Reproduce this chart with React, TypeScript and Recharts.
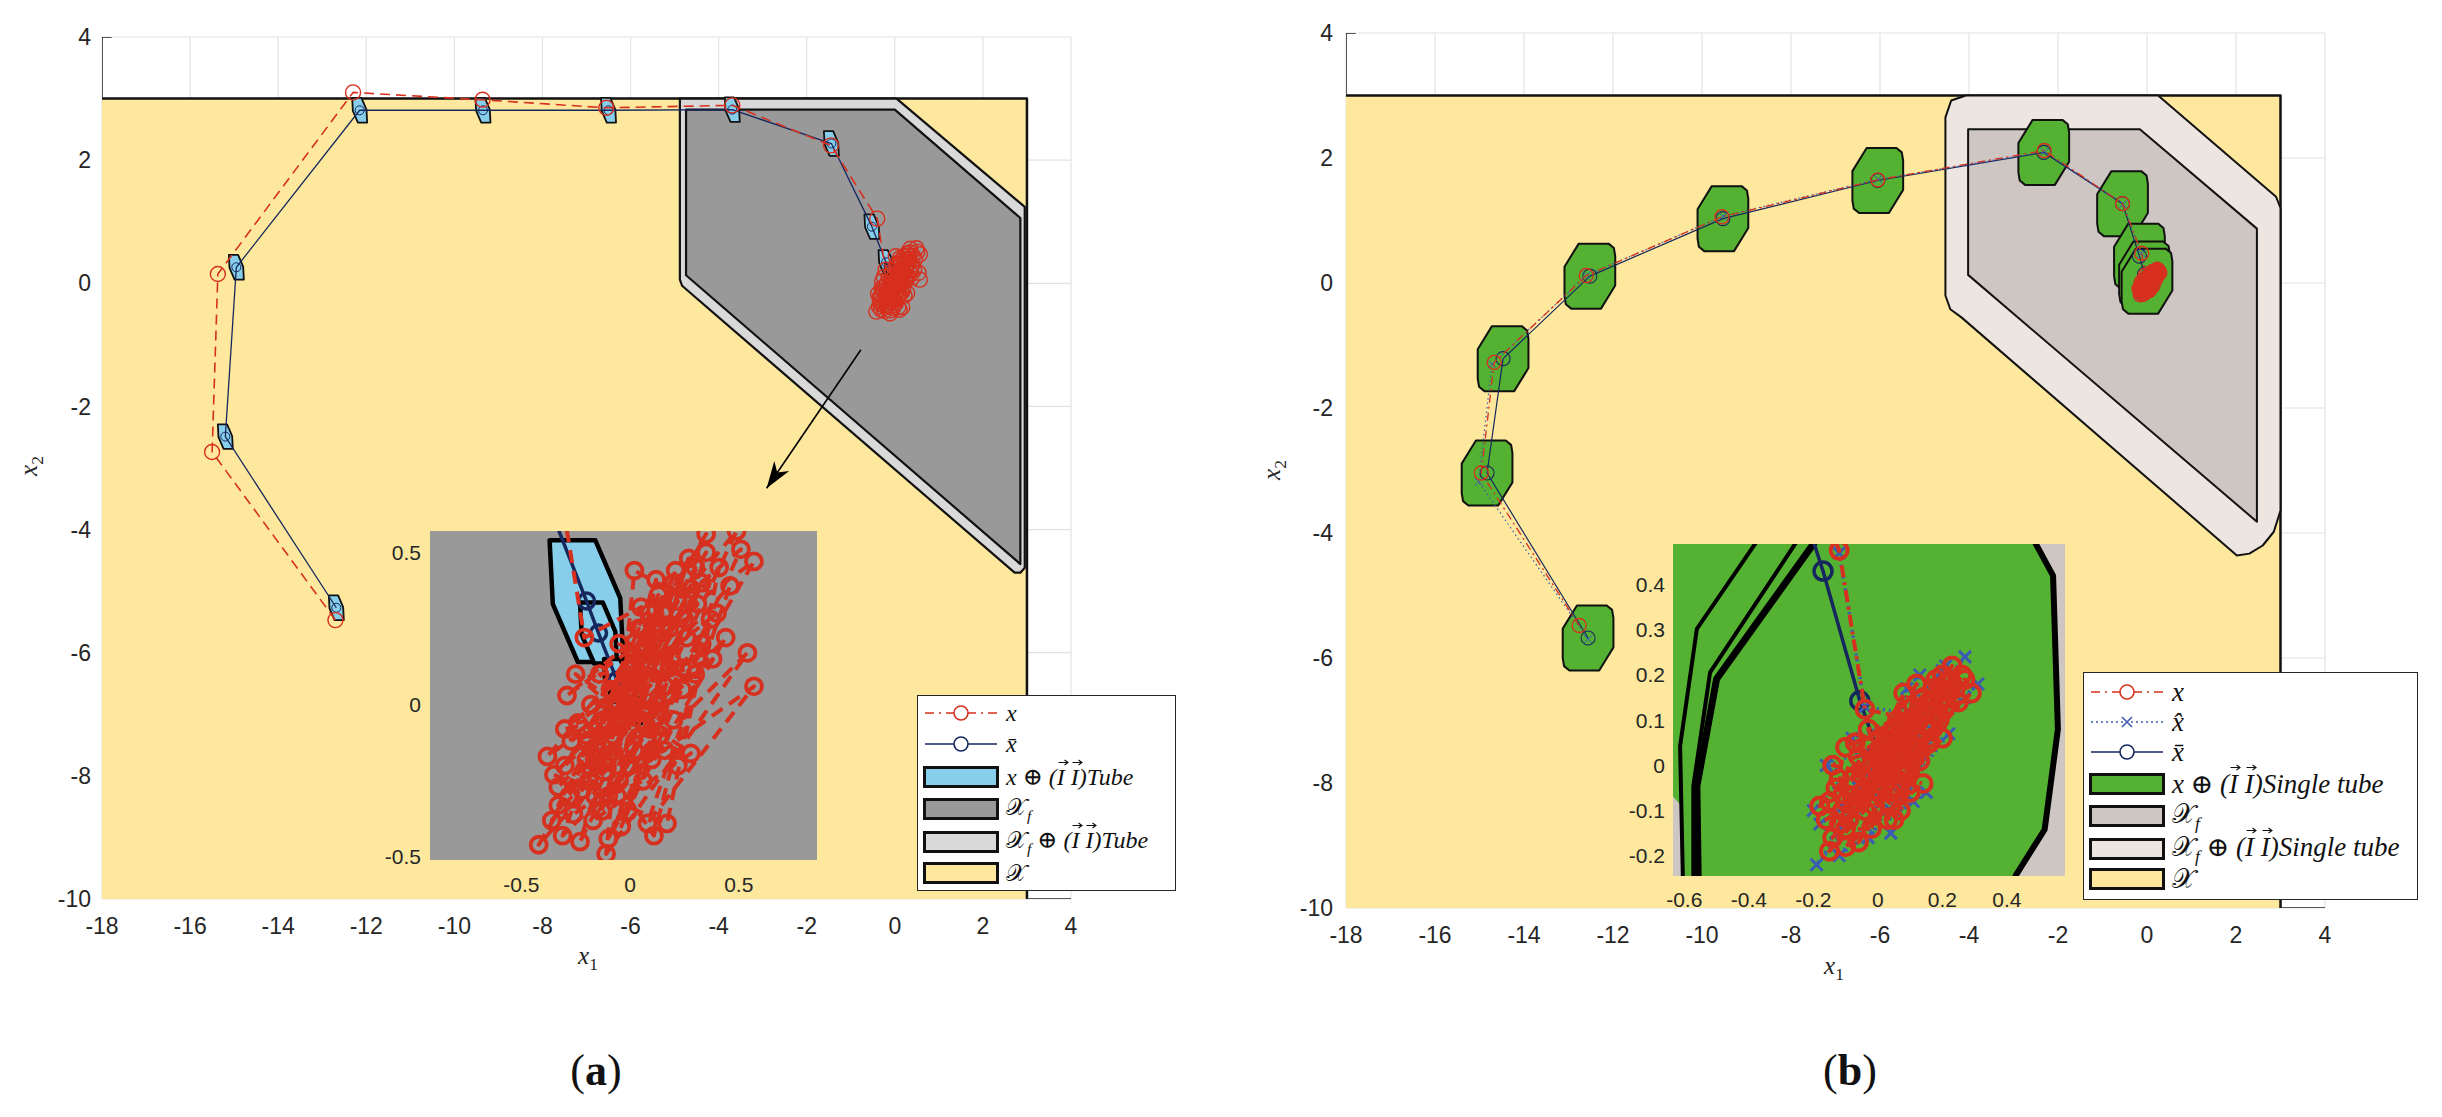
import React from "react";
import { ScatterChart, Scatter, XAxis, YAxis, CartesianGrid } from "recharts";

type Pt = { x: number; y: number };
const toPts = (a: number[][]): Pt[] => a.map(([x, y]) => ({ x, y }));

// axes
const X_TICKS = [-18, -16, -14, -12, -10, -8, -6, -4, -2, 0, 2, 4];
const Y_TICKS = [-10, -8, -6, -4, -2, 0, 2, 4];
const INSET_A_XT = [-0.5, 0, 0.5];
const INSET_A_YT = [-0.5, 0, 0.5];
const INSET_B_XT = [-0.6, -0.4, -0.2, 0, 0.2, 0.4];
const INSET_B_YT = [-0.2, -0.1, 0, 0.1, 0.2, 0.3, 0.4];

// state constraint set X and axis bits
const X_SET = [[-18, -10], [-18, 3], [3, 3], [3, -10]];
const X_EDGE = [[-18, 3], [3, 3], [3, -10]];
const Y_AXIS_SEG = [[-18, 3], [-18, 4], [-17.78, 4]];
const X_AXIS_SEG = [[3, -10], [4, -10]];

// ---------- panel (a) ----------
const XF_TUBE_A = [[-4.88, 3.0], [0.04, 3.0], [2.95, 1.24], [2.95, -4.62], [2.85, -4.7], [2.72, -4.7], [-4.83, -0.04], [-4.88, 0.06]];
const XF_A = [[-4.74, 2.82], [0.0, 2.82], [2.85, 1.06], [2.85, -4.56], [-4.74, 0.13]];
const TUBE_A = [[-0.17, 0.2], [0.04, 0.2], [0.155, 0.01], [0.17, -0.2], [-0.04, -0.2], [-0.155, -0.01]];
const XBAR_A = [[-12.68, -5.27], [-15.2, -2.49], [-14.95, 0.26], [-12.15, 2.81], [-9.35, 2.81], [-6.5, 2.81], [-3.69, 2.82], [-1.44, 2.27], [-0.52, 0.92], [-0.2, 0.34], [-0.145, 0.235], [-0.06, 0.08], [0.0, 0.0]];
const TUBE_SCALE_A = [1, 1, 1, 1, 1, 1, 1, 1, 1, 1, 0.5, 0.35, 0.3];
const X_PATH_A = [[-12.7, -5.47], [-15.5, -2.74], [-15.37, 0.15], [-12.3, 3.1], [-9.36, 2.98], [-6.55, 2.85], [-3.69, 2.89], [-1.45, 2.24], [-0.4, 1.05]];
const CLUSTER_A = [
  [-0.21, 0.22], [0.05, 0.32], [-0.12, -0.05], [0.35, 0.56], [-0.3, -0.2], [0.18, 0.12], [-0.38, -0.17], [0.49, 0.57],
  [-0.05, -0.25], [0.27, 0.48], [-0.33, -0.33], [0.21, 0.44], [0.0, 0.05], [-0.42, -0.46], [0.44, 0.22], [-0.1, -0.44],
  [0.51, 0.51], [-0.29, 0.03], [0.57, 0.47], [-0.06, -0.3], [0.12, 0.41], [-0.31, -0.43], [0.54, 0.17], [-0.11, -0.49],
  [0.02, 0.44], [0.31, 0.33], [-0.26, -0.36], [0.57, 0.06], [0.08, -0.39], [0.46, 0.39], [-0.35, -0.23], [0.17, -0.39],
  [0.37, 0.28], [-0.17, -0.38], [0.28, -0.16], [-0.25, 0.1], [0.22, -0.2], [0.41, 0.45], [-0.2, -0.1], [0.11, -0.43],
  [0.3, 0.1], [-0.15, -0.2], [0.15, 0.3], [-0.05, 0.2], [0.24, 0.05], [0.02, -0.15], [0.33, 0.4], [-0.22, -0.28],
  [0.1, 0.2], [-0.08, -0.1], [0.2, -0.05], [-0.18, 0.0], [0.38, 0.15], [0.05, -0.05], [-0.27, -0.12], [0.26, 0.22],
  [-0.02, 0.1], [0.14, -0.1], [-0.14, 0.1], [0.08, 0.12], [0.4, 0.3], [-0.24, -0.06], [0.12, 0.0], [-0.1, -0.3],
  [0.06, -0.25], [0.18, 0.25], [-0.03, -0.02], [0.28, 0.38], [-0.16, -0.3], [0.1, -0.18],
  [-0.2, -0.18], [0.04, 0.25], [-0.28, -0.3], [0.22, 0.34], [-0.12, -0.22], [0.16, 0.06], [-0.36, -0.38], [0.3, 0.45],
  [-0.07, 0.0], [0.09, 0.3], [-0.23, -0.45], [0.19, 0.15], [-0.01, -0.35], [0.35, 0.5], [-0.16, -0.14], [0.07, -0.02],
  [-0.3, -0.08], [0.25, 0.28], [0.0, -0.2], [0.13, 0.36], [-0.19, -0.25], [0.2, 0.4], [-0.09, 0.05], [0.16, -0.15],
  [-0.33, -0.27], [0.33, 0.2], [-0.04, -0.4], [0.24, 0.12], [-0.13, -0.35], [0.06, 0.17],
];
const ARROW_A = [[-0.77, -1.08], [-2.91, -3.33]];
const ARROW_TIP_A = [[-2.91, -3.33]];

// ---------- panel (b) ----------
const XF_TUBE_B = [[-4.53, 2.65], [-4.4, 2.92], [-4.07, 3.0], [0.25, 3.0], [2.9, 1.38], [3.0, 1.2], [3.0, -3.64], [2.85, -3.98], [2.6, -4.2], [2.3, -4.33], [2.02, -4.36], [-4.17, -0.55], [-4.42, -0.42], [-4.53, -0.2]];
const XF_B = [[-4.02, 2.46], [-0.16, 2.46], [2.47, 0.87], [2.47, -3.82], [-4.02, 0.13]];
const TUBE_B = [[-0.25, 0.52], [0.42, 0.52], [0.54, 0.45], [0.57, 0.32], [0.57, -0.15], [0.25, -0.52], [-0.42, -0.52], [-0.54, -0.45], [-0.57, -0.32], [-0.57, 0.15]];
const XBAR_B = [[-12.56, -5.68], [-14.83, -3.04], [-14.47, -1.21], [-12.52, 0.11], [-9.53, 1.03], [-6.05, 1.64], [-2.32, 2.09], [-0.55, 1.27], [-0.17, 0.43], [-0.056, 0.143], [0.0, 0.03]];
const XHAT_PATH_B = [[-12.56, -5.7], [-15.02, -3.18], [-14.72, -1.3], [-12.6, 0.12], [-9.53, 1.07], [-6.04, 1.66], [-2.3, 2.1], [-0.54, 1.26], [-0.12, 0.47]];
const X_PATH_B = [[-12.76, -5.48], [-14.96, -3.04], [-14.67, -1.27], [-12.6, 0.12], [-9.55, 1.06], [-6.05, 1.65], [-2.31, 2.12], [-0.55, 1.27], [-0.12, 0.476]];
const CLUSTER_B = [
  [-0.04, 0.124], [0.12, 0.1], [-0.1, -0.08], [0.23, 0.22], [-0.15, -0.19], [0.08, 0.0], [0.29, 0.16], [-0.05, -0.06],
  [0.2, 0.2], [-0.18, -0.09], [0.05, 0.06], [0.25, 0.14], [-0.1, -0.18], [0.14, -0.04], [-0.14, 0.0], [0.17, 0.08],
  [0.05, -0.12], [0.21, 0.13], [-0.07, 0.05], [0.1, -0.06], [0.0, 0.02], [0.18, 0.19], [-0.12, -0.13], [0.08, 0.16],
  [-0.02, -0.14], [0.13, 0.01], [-0.16, -0.12], [0.2, 0.06], [0.03, -0.08], [0.12, 0.18], [-0.08, -0.03], [0.15, 0.12],
  [-0.03, 0.08], [0.07, -0.1], [0.26, 0.2], [-0.13, -0.05], [0.1, 0.04], [-0.06, -0.17], [0.16, 0.05], [0.0, -0.04],
  [0.22, 0.16], [-0.1, 0.04], [0.06, 0.1], [0.03, -0.12], [0.19, 0.1], [-0.04, -0.1], [0.11, 0.13], [0.04, 0.02],
  [-0.09, -0.12], [0.14, 0.15],
  [0.02, 0.05], [-0.11, -0.1], [0.16, 0.14], [-0.05, -0.02], [0.09, 0.07], [-0.14, -0.16], [0.22, 0.18], [0.01, -0.06],
  [0.12, 0.06], [-0.08, -0.07], [0.18, 0.12], [-0.02, 0.0], [0.07, 0.09], [-0.12, -0.03], [0.1, 0.1], [0.04, -0.06],
  [0.24, 0.17], [-0.06, 0.02], [0.15, 0.09], [-0.1, -0.14], [0.06, 0.03], [0.2, 0.15], [-0.01, -0.09], [0.13, 0.11],
  [-0.15, -0.08], [0.09, -0.02], [0.27, 0.19], [-0.03, 0.04], [0.17, 0.17], [0.01, -0.02],
];
const XHAT_CLUSTER_B = [
  [-0.04, 0.13], [0.13, 0.11], [-0.11, -0.09], [0.27, 0.24], [-0.19, -0.22], [0.09, 0.01], [0.31, 0.18], [-0.06, -0.05],
  [0.21, 0.22], [-0.2, -0.1], [0.06, 0.07], [0.27, 0.15], [-0.12, -0.2], [0.15, -0.06], [-0.16, 0.0], [0.18, 0.09],
  [0.04, -0.15], [0.22, 0.14], [-0.08, 0.06], [0.11, -0.08], [0.01, 0.03], [0.2, 0.21], [-0.13, -0.15], [0.09, 0.17],
  [-0.03, -0.16], [0.14, 0.02], [-0.18, -0.13], [0.22, 0.07], [0.04, -0.1], [0.13, 0.2],
];
// inset (b) tube boundaries
const INSET_GREEN_B = [[-0.605, -0.3], [-0.608, -0.09], [-0.7, -0.02], [-0.7, 0.6], [0.45, 0.6], [0.486, 0.495], [0.543, 0.42], [0.558, 0.08], [0.517, -0.142], [0.429, -0.242], [0.39, -0.3]];
const INSET_L1_B = [[-0.603, -0.3], [-0.613, 0.043], [-0.561, 0.302], [-0.376, 0.495], [-0.33, 0.55]];
const INSET_L2_B = [[-0.572, -0.3], [-0.572, -0.046], [-0.52, 0.206], [-0.252, 0.495], [-0.22, 0.55]];
const INSET_L3_B = [[-0.556, -0.3], [-0.561, -0.046], [-0.5, 0.191], [-0.195, 0.495], [-0.17, 0.55]];
const INSET_R_B = [[0.45, 0.55], [0.486, 0.495], [0.543, 0.42], [0.558, 0.08], [0.517, -0.142], [0.429, -0.242], [0.39, -0.3]];

// colours
const YELLOW = "#fde89e";
const RED = "#d7301f";
const NAVY = "#16275e";
const BLUE = "#3b5bb5";
const SKY = "#87ceeb";
const GREEN = "#55b131";

const noDot = () => <g />;
const ring = (r: number, stroke: string, w: number) => (p: any) => (
  <circle cx={p.cx} cy={p.cy} r={r} fill="none" stroke={stroke} strokeWidth={w} />
);
const cross = (s: number, stroke: string, w: number) => (p: any) => (
  <path
    d={`M${p.cx - s},${p.cy - s}L${p.cx + s},${p.cy + s}M${p.cx - s},${p.cy + s}L${p.cx + s},${p.cy - s}`}
    stroke={stroke}
    strokeWidth={w}
    fill="none"
  />
);
const arrowHead = (p: any) => (
  <path d="M0,0L-27,-9L-19,0L-27,9Z" transform={`translate(${p.cx},${p.cy}) rotate(124)`} fill="#000" />
);

type SeriesOpts = { stroke?: string; width?: number; dash?: string; fill?: string; closed?: boolean; marker?: any };
function series(key: string, data: number[][], o: SeriesOpts) {
  return (
    <Scatter
      key={key}
      name={key}
      data={toPts(data)}
      isAnimationActive={false}
      shape={o.marker || noDot}
      legendType="none"
      line={{
        stroke: o.stroke || "none",
        strokeWidth: o.width || 1,
        strokeDasharray: o.dash,
        fill: o.fill || "none",
        strokeLinejoin: "round",
      }}
      lineJointType={o.closed ? "linearClosed" : "linear"}
    />
  );
}

const shift = (shape: number[][], c: number[], s: number) => shape.map(([dx, dy]) => [c[0] + dx * s, c[1] + dy * s]);

const tickMain = { fontSize: 23, fill: "#262626", fontFamily: '"Liberation Sans", Arial, sans-serif' };
const tickInset = { fontSize: 21, fill: "#262626", fontFamily: '"Liberation Sans", Arial, sans-serif' };

function MainA() {
  return (
    <ScatterChart width={1150} height={1000} margin={{ top: 37, right: 79, bottom: 31, left: 0 }}>
      <CartesianGrid stroke="#e3e3e3" strokeWidth={1.2} />
      <XAxis type="number" dataKey="x" domain={[-18, 4]} ticks={X_TICKS} allowDataOverflow height={70} tick={tickMain} tickLine={false} axisLine={false} tickMargin={13} />
      <YAxis type="number" dataKey="y" domain={[-10, 4]} ticks={Y_TICKS} allowDataOverflow width={102} tick={tickMain} tickLine={false} axisLine={false} tickMargin={5} />
      {series("X", X_SET, { fill: YELLOW, closed: true })}
      {series("Xedge", X_EDGE, { stroke: "#111", width: 2.5 })}
      {series("yaxis", Y_AXIS_SEG, { stroke: "#262626", width: 1.5 })}
      {series("xaxis", X_AXIS_SEG, { stroke: "#262626", width: 1.5 })}
      {series("XfTube", XF_TUBE_A, { fill: "#d9d9d9", stroke: "#111", width: 2.2, closed: true })}
      {series("Xf", XF_A, { fill: "#999999", stroke: "#111", width: 2.2, closed: true })}
      {XBAR_A.map((c, i) => series(`tube${i}`, shift(TUBE_A, c, TUBE_SCALE_A[i]), { fill: SKY, stroke: "#111", width: 1.8, closed: true }))}
      {series("xbar", XBAR_A, { stroke: NAVY, width: 1.3, marker: ring(4.5, NAVY, 1) })}
      {series("x", [...X_PATH_A, ...CLUSTER_A], { stroke: RED, width: 1.6, dash: "10 6", marker: ring(7.5, RED, 1.4) })}
      {series("arrow", ARROW_A, { stroke: "#000", width: 1.6 })}
      {series("arrowTip", ARROW_TIP_A, { marker: arrowHead })}
    </ScatterChart>
  );
}

function InsetA() {
  return (
    <ScatterChart width={457} height={374} margin={{ top: 0, right: 10, bottom: 0, left: 0 }}>
      <CartesianGrid fill="#999999" horizontal={false} vertical={false} />
      <XAxis type="number" dataKey="x" domain={[-0.92, 0.86]} ticks={INSET_A_XT} allowDataOverflow height={45} tick={tickInset} tickLine={false} axisLine={false} tickMargin={11} />
      <YAxis type="number" dataKey="y" domain={[-0.51, 0.57]} ticks={INSET_A_YT} allowDataOverflow width={60} tick={tickInset} tickLine={false} axisLine={false} tickMargin={3} />
      {XBAR_A.map((c, i) => series(`itube${i}`, shift(TUBE_A, c, TUBE_SCALE_A[i]), { fill: SKY, stroke: "#000", width: 4.5, closed: true }))}
      {series("ixbar", XBAR_A, { stroke: NAVY, width: 3.5, marker: ring(8, NAVY, 3.5) })}
      {series("ix", [...X_PATH_A, ...CLUSTER_A], { stroke: RED, width: 4, dash: "13 8", marker: ring(8, RED, 3.8) })}
    </ScatterChart>
  );
}

function MainB() {
  return (
    <ScatterChart width={1150} height={1000} margin={{ top: 33, right: 69, bottom: 22, left: 0 }}>
      <CartesianGrid stroke="#e3e3e3" strokeWidth={1.2} />
      <XAxis type="number" dataKey="x" domain={[-18, 4]} ticks={X_TICKS} allowDataOverflow height={70} tick={tickMain} tickLine={false} axisLine={false} tickMargin={13} />
      <YAxis type="number" dataKey="y" domain={[-10, 4]} ticks={Y_TICKS} allowDataOverflow width={102} tick={tickMain} tickLine={false} axisLine={false} tickMargin={7} />
      {series("X", X_SET, { fill: YELLOW, closed: true })}
      {series("Xedge", X_EDGE, { stroke: "#111", width: 2.5 })}
      {series("yaxis", Y_AXIS_SEG, { stroke: "#262626", width: 1.5 })}
      {series("xaxis", X_AXIS_SEG, { stroke: "#262626", width: 1.5 })}
      {series("XfTube", XF_TUBE_B, { fill: "#ede5df", stroke: "#111", width: 2, closed: true })}
      {series("Xf", XF_B, { fill: "#cdc6c2", stroke: "#111", width: 2, closed: true })}
      {XBAR_B.map((c, i) => series(`tube${i}`, shift(TUBE_B, c, 1), { fill: GREEN, stroke: "#111", width: 2, closed: true }))}
      {series("xbar", XBAR_B, { stroke: NAVY, width: 1.2, marker: ring(7, NAVY, 1.1) })}
      {series("xhat", [...XHAT_PATH_B, ...XHAT_CLUSTER_B], { stroke: BLUE, width: 1.2, dash: "1.5 3", marker: cross(4, BLUE, 1) })}
      {series("x", [...X_PATH_B, ...CLUSTER_B], { stroke: RED, width: 1.3, dash: "8 4 2 4", marker: ring(7, RED, 1.3) })}
    </ScatterChart>
  );
}

function InsetB() {
  return (
    <ScatterChart width={462} height={377} margin={{ top: 0, right: 10, bottom: 0, left: 0 }}>
      <CartesianGrid fill="#cdc6c2" horizontal={false} vertical={false} />
      <XAxis type="number" dataKey="x" domain={[-0.635, 0.58]} ticks={INSET_B_XT} allowDataOverflow height={45} tick={tickInset} tickLine={false} axisLine={false} tickMargin={10} />
      <YAxis type="number" dataKey="y" domain={[-0.245, 0.49]} ticks={INSET_B_YT} allowDataOverflow width={60} tick={tickInset} tickLine={false} axisLine={false} tickMargin={2} />
      {series("green", INSET_GREEN_B, { fill: GREEN, closed: true })}
      {series("l1", INSET_L1_B, { stroke: "#000", width: 4 })}
      {series("l2", INSET_L2_B, { stroke: "#000", width: 4 })}
      {series("l3", INSET_L3_B, { stroke: "#000", width: 7 })}
      {series("r", INSET_R_B, { stroke: "#000", width: 6 })}
      {series("ixbar", XBAR_B, { stroke: NAVY, width: 3.5, marker: ring(9, NAVY, 3.5) })}
      {series("ixhat", [...XHAT_PATH_B, ...XHAT_CLUSTER_B], { stroke: BLUE, width: 3.5, dash: "2 4", marker: cross(6, BLUE, 3) })}
      {series("ix", [...X_PATH_B, ...CLUSTER_B], { stroke: RED, width: 4, dash: "12 5 3 5", marker: ring(8.5, RED, 4) })}
    </ScatterChart>
  );
}

const serif = '"Liberation Serif", "DejaVu Serif", serif';

// I with a vector arrow (arrow drawn as a tiny svg so it is not a second text)
const VecI = () => (
  <span style={{ position: "relative", display: "inline-block" }}>
    I
    <svg style={{ position: "absolute", left: 1, top: -5 }} width={11} height={7} viewBox="0 0 11 7">
      <path d="M0.5,3.5H9.5M6.5,1L10,3.5L6.5,6" stroke="#111" strokeWidth={1.1} fill="none" />
    </svg>
  </span>
);
const CalX = ({ f }: { f?: boolean }) => (
  <span>
    <span style={{ fontFamily: '"DejaVu Serif", "DejaVu Sans", serif', fontStyle: "normal" }}>𝒳</span>
    {f && <sub style={{ fontSize: "0.65em" }}>f</sub>}
  </span>
);
const Tube = ({ word }: { word: string }) => (
  <span>
    <span style={{ fontStyle: "normal" }}> ⊕ </span>(<VecI />&nbsp;<VecI />)
    {word}
  </span>
);

type Row = { top: number; kind: "line" | "patch"; color: string; dash?: string; mark?: "o" | "x"; label: React.ReactNode };

function LegendBox({ left, top, width, height, rows, font }: { left: number; top: number; width: number; height: number; rows: Row[]; font: number }) {
  return (
    <div style={{ position: "absolute", left, top, width, height, background: "#fff", border: "1.5px solid #262626", boxSizing: "border-box" }}>
      {rows.map((r, i) => (
        <div key={i} style={{ position: "absolute", left: 5, top: r.top - 13, height: 26, display: "flex", alignItems: "center" }}>
          {r.kind === "line" ? (
            <svg width={76} height={26}>
              <line x1={2} y1={13} x2={74} y2={13} stroke={r.color} strokeWidth={1.6} strokeDasharray={r.dash} />
              {r.mark === "o" ? (
                <circle cx={38} cy={13} r={7} fill="#fff" stroke={r.color} strokeWidth={1.6} />
              ) : (
                <path d="M33,8L43,18M33,18L43,8" stroke={r.color} strokeWidth={1.6} />
              )}
            </svg>
          ) : (
            <div style={{ width: 76, height: 22, background: r.color, border: "3px solid #111", boxSizing: "border-box" }} />
          )}
          <span style={{ marginLeft: 7, fontFamily: serif, fontStyle: "italic", fontSize: font, color: "#111", whiteSpace: "nowrap" }}>{r.label}</span>
        </div>
      ))}
    </div>
  );
}

const rowsA: Row[] = [
  { top: 17, kind: "line", color: RED, dash: "9 5 2 5", mark: "o", label: "x" },
  { top: 48, kind: "line", color: NAVY, mark: "o", label: "x\u0304" },
  { top: 81, kind: "patch", color: SKY, label: <span>x<Tube word="Tube" /></span> },
  { top: 113, kind: "patch", color: "#999999", label: <CalX f /> },
  { top: 146, kind: "patch", color: "#d9d9d9", label: <span><CalX f /><Tube word="Tube" /></span> },
  { top: 177, kind: "patch", color: YELLOW, label: <CalX /> },
];
const rowsB: Row[] = [
  { top: 19, kind: "line", color: RED, dash: "9 5 2 5", mark: "o", label: "x" },
  { top: 49, kind: "line", color: BLUE, dash: "2 3", mark: "x", label: "x\u0302" },
  { top: 79, kind: "line", color: NAVY, mark: "o", label: "x\u0304" },
  { top: 111, kind: "patch", color: GREEN, label: <span>x<Tube word="Single tube" /></span> },
  { top: 143, kind: "patch", color: "#cdc6c2", label: <CalX f /> },
  { top: 176, kind: "patch", color: "#ede5df", label: <span><CalX f /><Tube word="Single tube" /></span> },
  { top: 206, kind: "patch", color: YELLOW, label: <CalX /> },
];

const abs = (left: number, top: number, extra: React.CSSProperties = {}): React.CSSProperties => ({
  position: "absolute",
  left,
  top,
  transform: "translate(-50%, -50%)",
  fontFamily: serif,
  whiteSpace: "nowrap",
  color: "#262626",
  ...extra,
});

export default function App() {
  return (
    <div style={{ position: "absolute", left: 0, top: 0, width: 2442, height: 1117, background: "#fff", overflow: "hidden" }}>
      <div style={{ position: "absolute", left: 0, top: 0 }}>
        <MainA />
      </div>
      <div style={{ position: "absolute", left: 370, top: 531 }}>
        <InsetA />
      </div>
      <LegendBox left={917} top={695} width={259} height={196} rows={rowsA} font={24} />

      <div style={{ position: "absolute", left: 1244, top: 0 }}>
        <MainB />
      </div>
      <div style={{ position: "absolute", left: 1613, top: 544 }}>
        <InsetB />
      </div>
      <LegendBox left={2083} top={672} width={335} height={228} rows={rowsB} font={27} />

      <div style={abs(588, 958, { fontStyle: "italic", fontSize: 25 })}>
        x<sub style={{ fontSize: "0.7em", fontStyle: "normal" }}>1</sub>
      </div>
      <div style={abs(31, 466, { fontStyle: "italic", fontSize: 25, transform: "translate(-50%, -50%) rotate(-90deg)" })}>
        x<sub style={{ fontSize: "0.7em", fontStyle: "normal" }}>2</sub>
      </div>
      <div style={abs(1834, 968, { fontStyle: "italic", fontSize: 25 })}>
        x<sub style={{ fontSize: "0.7em", fontStyle: "normal" }}>1</sub>
      </div>
      <div style={abs(1274, 470, { fontStyle: "italic", fontSize: 25, transform: "translate(-50%, -50%) rotate(-90deg)" })}>
        x<sub style={{ fontSize: "0.7em", fontStyle: "normal" }}>2</sub>
      </div>

      <div style={abs(596, 1070, { fontSize: 44, color: "#111" })}>
        (<b>a</b>)
      </div>
      <div style={abs(1850, 1070, { fontSize: 44, color: "#111" })}>
        (<b>b</b>)
      </div>
    </div>
  );
}
